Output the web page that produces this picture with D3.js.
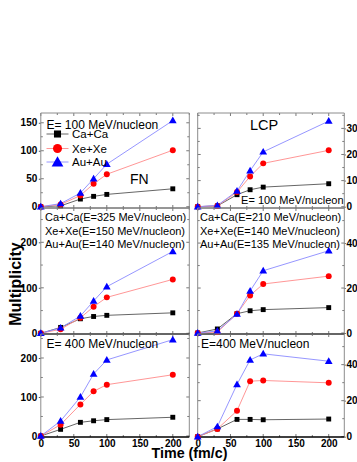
<!DOCTYPE html>
<html><head><meta charset="utf-8">
<script src="https://cdn.jsdelivr.net/npm/d3@7"></script>
<style>
body{margin:0;background:#fff}
svg{display:block}
text{font-family:"Liberation Sans",Arial,sans-serif}
</style>
</head><body>
<svg id="c" width="357" height="462"></svg>
<script>
// ---------- data ----------
const times = [0, 30, 60, 80, 100, 200];
const systems = ["Ca+Ca", "Xe+Xe", "Au+Au"];
// FN, E = 100 MeV/nucleon
const fn100Ca = [0, 1.5, 13.7, 18.5, 22, 32];
const fn100Xe = [0, 4, 20, 41, 58, 101];
const fn100Au = [0, 5.5, 24.5, 50, 76, 154];
// LCP, E = 100 MeV/nucleon
const lcp100Ca = [0, 0.3, 4.6, 6.5, 7.5, 8.8];
const lcp100Xe = [0, 0.3, 5.6, 11.6, 16.6, 21.6];
const lcp100Au = [0, 0.5, 6, 13.8, 21, 32.8];
// FN, balance energies
const fnBalCa = [0, 13, 32, 37, 39.5, 45];
const fnBalXe = [0, 9, 34, 58.5, 79, 118.5];
const fnBalAu = [0, 12, 38, 71, 102.5, 180];
// LCP, balance energies
const lcpBalCa = [0, 1.8, 8.6, 9.9, 10.4, 11.3];
const lcpBalXe = [0, 0.4, 8.6, 16.7, 21.8, 25.3];
const lcpBalAu = [0, 0.9, 8.4, 18.7, 27.7, 36.6];
// FN, E = 400 MeV/nucleon
const fn400Ca = [0, 17, 35, 39, 42, 48];
const fn400Xe = [0, 29, 81, 114.5, 131.6, 157];
const fn400Au = [0, 38.5, 100, 159, 195, 247];
// LCP, E = 400 MeV/nucleon
const lcp400Ca = [0, 4.3, 9.6, 9.6, 9.4, 9.8];
const lcp400Xe = [0, 4.3, 14.4, 30.8, 31.2, 29.9];
const lcp400Au = [0, 5.6, 29, 42.6, 46, 41.9];

// ticks
const xTicks = [0, 50, 100, 150, 200];
const xMinor = [25, 75, 125, 175, 225];
const fn100Ticks = [0, 50, 100, 150];
const lcp100Ticks = [0, 10, 20, 30];
const fnBalTicks = [0, 100, 200];
const lcpBalTicks = [0, 20, 40];
const fn400Ticks = [0, 100, 200];
const lcp400Ticks = [0, 20, 40];

// annotation texts
const balLeft = ["Ca+Ca(E=325 MeV/nucleon)", "Xe+Xe(E=150 MeV/nucleon)", "Au+Au(E=140 MeV/nucleon)"];
const balRight = ["Ca+Ca(E=210 MeV/nucleon)", "Xe+Xe(E=140 MeV/nucleon)", "Au+Au(E=135 MeV/nucleon)"];

// ---------- layout ----------
const cols = [{x0: 40.8, x1: 189.3, side: "left", k: 0.66}, {x0: 197.7, x1: 344.3, side: "right", k: 0.6551}];
const rows = [{y0: 113, y1: 208}, {y0: 208, y1: 334}, {y0: 334, y1: 437}];
const markColors = ["#000000", "#ff0000", "#0000ff"];
const lineColors = ["#555555", "#ff8a8a", "#8a8aff"];
const symTypes = [d3.symbolSquare, d3.symbolCircle, d3.symbolTriangle];
const symSizes = [24, 28, 26];

const panels = [
  {r: 0, c: 0, series: [fn100Ca, fn100Xe, fn100Au], dom: [-2.3, 167.5], ticks: fn100Ticks, minorStep: 25},
  {r: 0, c: 1, series: [lcp100Ca, lcp100Xe, lcp100Au], dom: [-0.5, 35.9], ticks: lcp100Ticks, minorStep: 5},
  {r: 1, c: 0, series: [fnBalCa, fnBalXe, fnBalAu], dom: [-1.5, 275.4], ticks: fnBalTicks, minorStep: 50},
  {r: 1, c: 1, series: [lcpBalCa, lcpBalXe, lcpBalAu], dom: [-0.44, 55.6], ticks: lcpBalTicks, minorStep: 10},
  {r: 2, c: 0, series: [fn400Ca, fn400Xe, fn400Au], dom: [-2.6, 261.5], ticks: fn400Ticks, minorStep: 50},
  {r: 2, c: 1, series: [lcp400Ca, lcp400Xe, lcp400Au], dom: [-0.17, 57], ticks: lcp400Ticks, minorStep: 10}
];

const svg = d3.select("#c");
const frameGray = "#8c8c8c";

panels.forEach(p => {
  const col = cols[p.c], row = rows[p.r];
  const x = d3.scaleLinear().domain([0, 225]).range([col.x0, col.x0 + 225 * col.k]);
  const y = d3.scaleLinear().domain(p.dom).range([row.y1, row.y0]);
  const g = svg.append("g");
  const yMinor = d3.range(p.minorStep, p.dom[1], p.minorStep).filter(v => !p.ticks.includes(v));

  // inward ticks on all four sides
  const tickG = g.append("g").attr("stroke", "#555").attr("stroke-width", 0.8);
  xTicks.concat(xMinor).forEach(t => {
    const len = xTicks.includes(t) ? 3 : 2;
    if (x(t) > col.x1 + 0.5) return;
    tickG.append("line").attr("x1", x(t)).attr("x2", x(t)).attr("y1", row.y1).attr("y2", row.y1 - len);
    tickG.append("line").attr("x1", x(t)).attr("x2", x(t)).attr("y1", row.y0).attr("y2", row.y0 + len);
  });
  p.ticks.concat(yMinor).forEach(v => {
    const len = p.ticks.includes(v) ? 3 : 2;
    tickG.append("line").attr("x1", col.x0).attr("x2", col.x0 + len).attr("y1", y(v)).attr("y2", y(v));
    tickG.append("line").attr("x1", col.x1).attr("x2", col.x1 - len).attr("y1", y(v)).attr("y2", y(v));
  });

  // labelled y axis
  const left = col.side === "left";
  const yAxis = (left ? d3.axisLeft(y) : d3.axisRight(y))
    .tickValues(p.ticks).tickSizeInner(left ? 2 : 1.5).tickSizeOuter(0).tickPadding(left ? 1.5 : 0.6);
  const ya = g.append("g")
    .attr("transform", `translate(${left ? col.x0 : col.x1},0)`)
    .call(yAxis);
  ya.select(".domain").remove();
  ya.selectAll("line").attr("stroke", "#555");
  ya.selectAll("text").attr("font-size", 10).attr("font-weight", "bold").attr("fill", "#000")
    .attr("font-family", "'Liberation Sans',Arial,sans-serif");

  // x axis labels on bottom row
  if (p.r === 2) {
    const xa = g.append("g").attr("transform", `translate(0,${row.y1})`)
      .call(d3.axisBottom(x).tickValues(xTicks).tickSizeInner(2).tickSizeOuter(0).tickPadding(0.6));
    xa.select(".domain").remove();
    xa.selectAll("line").attr("stroke", "#555");
    xa.selectAll("text").attr("font-size", 10).attr("font-weight", "bold").attr("fill", "#000")
      .attr("font-family", "'Liberation Sans',Arial,sans-serif");
  }

  // frame
  g.append("line").attr("x1", col.x0).attr("x2", col.x1).attr("y1", row.y0).attr("y2", row.y0)
    .attr("stroke", frameGray).attr("stroke-width", 1);
  g.append("line").attr("x1", col.x0).attr("x2", col.x0).attr("y1", row.y0).attr("y2", row.y1)
    .attr("stroke", frameGray).attr("stroke-width", 1);
  g.append("line").attr("x1", col.x1).attr("x2", col.x1).attr("y1", row.y0).attr("y2", row.y1)
    .attr("stroke", frameGray).attr("stroke-width", 1);
  g.append("line").attr("x1", col.x0).attr("x2", col.x1).attr("y1", row.y1).attr("y2", row.y1)
    .attr("stroke", p.r === 0 ? "#444" : "#000").attr("stroke-width", p.r === 0 ? 1 : 1.4);

  // series
  const line = d3.line().x((d, i) => x(times[i])).y(d => y(d));
  p.series.forEach((s, k) => {
    g.append("path").datum(s).attr("d", line).attr("fill", "none")
      .attr("stroke", lineColors[k]).attr("stroke-width", 0.9);
  });
  p.series.forEach((s, k) => {
    g.selectAll(null).data(s).enter().append("path")
      .attr("d", d3.symbol().type(symTypes[k]).size(symSizes[k]))
      .attr("transform", (d, i) => `translate(${x(times[i])},${y(d) + (k === 2 ? 0.5 : 0)})`)
      .attr("fill", markColors[k]);
  });
});

// ---------- annotations ----------
const txt = (x, y, s, size, anchor) => svg.append("text").attr("x", x).attr("y", y)
  .attr("font-size", size).attr("text-anchor", anchor || "start").attr("fill", "#000").text(s);

txt(46.5, 128.5, "E= 100 MeV/nucleon", 12);
txt(130, 183.5, "FN", 14);
txt(250, 130, "LCP", 14.5);
txt(343.5, 204, "E= 100 MeV/nucleon", 11, "end");

// legend
const legY = [134, 148.5, 162];
systems.forEach((s, k) => {
  svg.append("line").attr("x1", 46.5).attr("x2", 68.5).attr("y1", legY[k]).attr("y2", legY[k])
    .attr("stroke", lineColors[k]).attr("stroke-width", 0.9);
  svg.append("path").attr("d", d3.symbol().type(symTypes[k]).size([50, 64, 60][k]))
    .attr("transform", `translate(57.5,${legY[k] + (k === 2 ? 1 : 0)})`).attr("fill", markColors[k]);
  txt(72, legY[k] + 4, s, 11.5);
});

const balY = [220.5, 234.5, 248.3];
balLeft.forEach((s, i) => txt(45, balY[i], s, 11));
balRight.forEach((s, i) => txt(200, balY[i], s, 11));

txt(46.5, 347.5, "E= 400 MeV/nucleon", 12);
txt(201, 347.5, "E=400 MeV/nucleon", 12);

// axis titles
svg.append("text").attr("transform", "translate(21,284) rotate(-90)")
  .attr("text-anchor", "middle").attr("font-size", 16).attr("font-weight", "bold").text("Multiplicity");
svg.append("text").attr("x", 151.5).attr("y", 457.5).attr("font-size", 15).attr("font-weight", "bold")
  .attr("textLength", 76).attr("lengthAdjust", "spacingAndGlyphs").text("Time (fm/c)");
</script>
</body></html>
